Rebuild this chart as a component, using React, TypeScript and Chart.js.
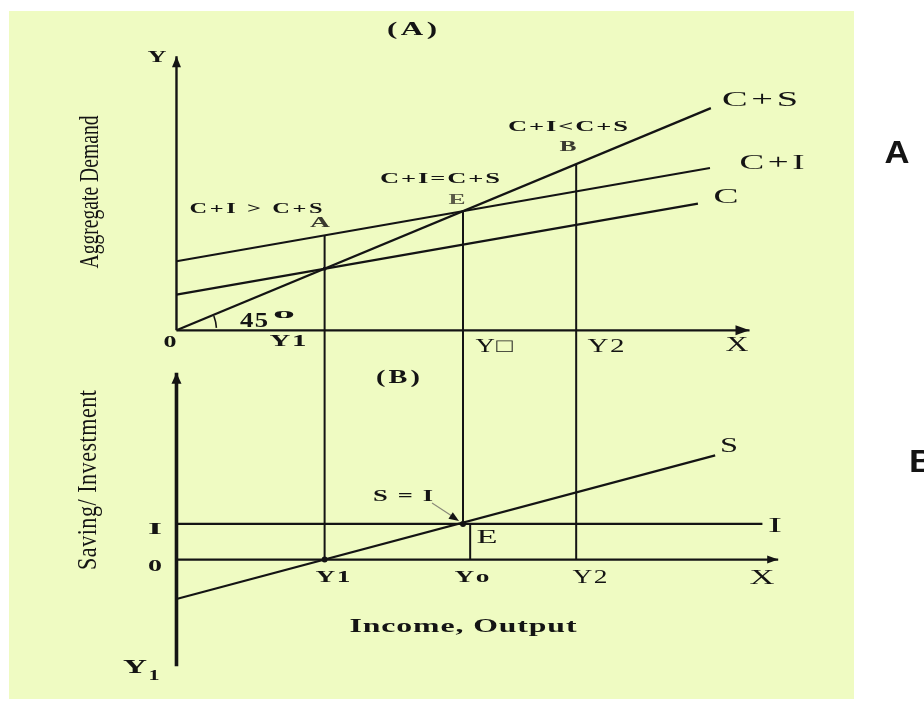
import { useEffect, useRef } from 'react';
import { Chart, registerables } from 'chart.js';

Chart.register(...registerables);

// ---- Panel A: aggregate demand (x = income, y = AD) ----
const csX = [0, 186.5];
const csY = [0, 186.5]; // C+S (45° line)
const ciX = [0, 186.2];
const ciY = [58, 136.2]; // C+I
const cX = [0, 182];
const cY = [30, 106.4]; // C
const axisAX = [0, 200];
const axisAY = [0, 230];

// ---- Panel B: saving / investment ----
const sX = [0, 188];
const sY = [-31, 82]; // S
const iX = [0, 204.5];
const iY = [28, 28]; // I
const axisBX = [0, 210];
const axisBY = [-84, 147];

// income levels Y1, Yo, Y2 and guide lines
const incomeLabels = ['Y1', 'Yo', 'Y2'];
const incomeLevels = [51.7, 100, 139.5];
const guideX = [51.7, 100, 139.5, 102.5];
const guideTop = [79.7, 100, 139.5, 28];
const guideTopAxis = ['yA', 'yA', 'yA', 'yB'];
const guideBottom = [0, 28, 0, 0];

// marked points
const dotAX = [51.7];
const dotAY = [51.7];
const dotBX = [100, 51.7];
const dotBY = [28, 0];

const INK = '#141414';
const BG = '#EFFBC2';

function seg(xs: number[], ys: number[], axis: string, width: number) {
  return {
    data: xs.map((x, i) => ({ x, y: ys[i] })),
    yAxisID: axis,
    showLine: true,
    borderColor: INK,
    backgroundColor: INK,
    borderWidth: width,
    pointRadius: 0,
    fill: false,
  };
}

function dots(xs: number[], ys: number[], axis: string, r: number) {
  return {
    data: xs.map((x, i) => ({ x, y: ys[i] })),
    yAxisID: axis,
    showLine: false,
    borderColor: INK,
    backgroundColor: INK,
    pointRadius: r,
    borderWidth: 0,
  };
}

function drawText(
  ctx: CanvasRenderingContext2D,
  text: string,
  cx: number,
  cy: number,
  font: string,
  w: number,
  opts: { ls?: number; sy?: number; rot?: number; color?: string } = {}
) {
  const { ls = 1, sy = 1, rot = 0, color = INK } = opts;
  ctx.save();
  ctx.font = font;
  ctx.fillStyle = color;
  ctx.textBaseline = 'middle';
  ctx.textAlign = 'left';
  const chars = Array.from(text);
  const widths = chars.map((c) => ctx.measureText(c).width);
  const nw = widths.reduce((a, b) => a + b, 0) + ls * (chars.length - 1);
  const sx = w / nw;
  ctx.translate(cx, cy);
  ctx.rotate(rot);
  ctx.scale(sx, sy);
  let x = -nw / 2;
  chars.forEach((c, i) => {
    ctx.fillText(c, x, 0);
    x += widths[i] + ls;
  });
  ctx.restore();
}

function arrowHead(ctx: CanvasRenderingContext2D, tx: number, ty: number, dx: number, dy: number, len = 11, half = 4.5) {
  const l = Math.hypot(dx, dy);
  const ux = dx / l;
  const uy = dy / l;
  const bx = tx - ux * len;
  const by = ty - uy * len;
  ctx.beginPath();
  ctx.moveTo(tx, ty);
  ctx.lineTo(bx - uy * half, by + ux * half);
  ctx.lineTo(bx + uy * half, by - ux * half);
  ctx.closePath();
  ctx.fill();
}

const SERIF = '"Liberation Serif", "Times New Roman", serif';

const diagramPlugin = {
  id: 'diagram',
  beforeDraw(chart: any) {
    const ctx = chart.ctx as CanvasRenderingContext2D;
    ctx.save();
    ctx.fillStyle = '#ffffff';
    ctx.fillRect(0, 0, chart.width, chart.height);
    ctx.fillStyle = BG;
    ctx.fillRect(9, 11, 845, 688);
    ctx.restore();
  },
  afterDatasetsDraw(chart: any) {
    const ctx = chart.ctx as CanvasRenderingContext2D;
    const xs = chart.scales.x;
    const yA = chart.scales.yA;
    const yB = chart.scales.yB;
    ctx.save();
    ctx.strokeStyle = INK;
    ctx.fillStyle = INK;

    // vertical guide lines across both panels
    ctx.lineWidth = 2;
    guideX.forEach((gx, i) => {
      const px = xs.getPixelForValue(gx);
      const topScale = guideTopAxis[i] === 'yA' ? yA : yB;
      ctx.beginPath();
      ctx.moveTo(px, topScale.getPixelForValue(guideTop[i]));
      ctx.lineTo(px, yB.getPixelForValue(guideBottom[i]));
      ctx.stroke();
    });

    // axis arrowheads
    arrowHead(ctx, xs.getPixelForValue(0), yA.getPixelForValue(axisAY[1]), 0, -1, 11, 4.5);
    arrowHead(ctx, xs.getPixelForValue(axisAX[1]), yA.getPixelForValue(0), 1, 0, 14, 5);
    arrowHead(ctx, xs.getPixelForValue(0), yB.getPixelForValue(axisBY[1]), 0, -1, 11, 5);
    arrowHead(ctx, xs.getPixelForValue(axisBX[1]), yB.getPixelForValue(0), 1, 0, 11, 4);

    // 45 degree angle mark
    const ox = xs.getPixelForValue(0);
    const oy = yA.getPixelForValue(0);
    const ang = Math.atan2(
      yA.getPixelForValue(csY[1]) - oy,
      xs.getPixelForValue(csX[1]) - ox
    );
    ctx.lineWidth = 1.6;
    ctx.beginPath();
    ctx.arc(ox, oy, 40, ang + 0.03, -0.06);
    ctx.stroke();

    // S = I pointer
    const ex = xs.getPixelForValue(incomeLevels[1]);
    const ey = yB.getPixelForValue(iY[0]);
    ctx.strokeStyle = '#8a8a7a';
    ctx.lineWidth = 1.2;
    ctx.beginPath();
    ctx.moveTo(ex - 31, ey - 21);
    ctx.lineTo(ex - 8, ey - 6);
    ctx.stroke();
    ctx.fillStyle = INK;
    arrowHead(ctx, ex - 4, ey - 3, 23, 15, 10, 4);
    ctx.restore();

    // ---- labels ----
    const B = (s: number) => `bold ${s}px ${SERIF}`;
    const R = (s: number) => `${s}px ${SERIF}`;
    drawText(ctx, '(A)', 412, 30, B(18), 50, { ls: 2 });
    drawText(ctx, 'Y', 157, 58, B(16), 19);
    drawText(ctx, 'Aggregate Demand', 91, 192, R(20), 153, { ls: 0, sy: 1.35, rot: -Math.PI / 2 });
    drawText(ctx, 'C+I > C+S', 256, 209, B(14), 133, { ls: 1.5 });
    drawText(ctx, 'A', 320, 223, B(15), 20, { color: '#3a3a30' });
    drawText(ctx, 'C+I=C+S', 440, 179, B(14), 120, { ls: 1 });
    drawText(ctx, 'E', 457, 200, B(15), 17, { color: '#5a5a48' });
    drawText(ctx, 'C+I<C+S', 568, 127, B(14), 120, { ls: 1 });
    drawText(ctx, 'B', 568, 147, B(15), 17, { color: '#3a3a30' });
    drawText(ctx, 'C+S', 760, 100, R(21), 76, { ls: 2 });
    drawText(ctx, 'C+I', 772, 163, R(21), 65, { ls: 2 });
    drawText(ctx, 'C', 726, 197, R(21), 25);
    drawText(ctx, 'X', 737, 345, R(21), 23);
    drawText(ctx, '0', 170, 343, B(17), 13);
    drawText(ctx, '45', 254, 322, B(20), 28);
    drawText(ctx, 'o', 284, 314, B(15), 22);
    const upperY = [342, 347, 347];
    const upperXc = [288, 494, 606];
    incomeLabels.forEach((t, i) => {
      drawText(ctx, t === 'Yo' ? 'Y\u25a1' : t, upperXc[i], upperY[i], i === 0 ? B(17) : R(19), 37, { ls: 1 });
    });

    drawText(ctx, '(B)', 398, 378, B(18), 44, { ls: 2 });
    drawText(ctx, 'Saving/ Investment', 89, 480, R(21), 180, { ls: 0.5, sy: 1.35, rot: -Math.PI / 2 });
    drawText(ctx, 'I', 155, 530, B(17), 14);
    drawText(ctx, '0', 155, 567, B(17), 14);
    drawText(ctx, 'Y', 135, 668, B(19), 24);
    drawText(ctx, '1', 154, 676, B(14), 11);
    const lowerXc = [333, 472, 590];
    incomeLabels.forEach((t, i) => {
      drawText(ctx, t, lowerXc[i], 578, i === 2 ? R(18) : B(17), 35, { ls: 1 });
    });
    drawText(ctx, 'X', 762, 578, R(21), 25);
    drawText(ctx, 'E', 487, 538, R(19), 21);
    drawText(ctx, 'S', 729, 447, R(20), 18);
    drawText(ctx, 'I', 775, 527, R(20), 14);
    drawText(ctx, 'S = I', 403, 497, B(16), 60, { ls: 1 });
    drawText(ctx, 'Income, Output', 463, 627, B(18), 227, { ls: 0.5 });

    const SANS = '"Liberation Sans", Arial, sans-serif';
    drawText(ctx, 'A', 897, 154, `bold 32px ${SANS}`, 25);
    drawText(ctx, 'B', 922, 463, `bold 32px ${SANS}`, 26);
  },
};

export default function App() {
  const ref = useRef<HTMLCanvasElement | null>(null);
  useEffect(() => {
    if (!ref.current) return;
    const chart = new Chart(ref.current, {
      type: 'scatter',
      data: {
        datasets: [
          seg(axisAX, [0, 0], 'yA', 2.2),
          seg([0, 0], axisAY, 'yA', 2.4),
          seg(csX, csY, 'yA', 2.2),
          seg(ciX, ciY, 'yA', 2),
          seg(cX, cY, 'yA', 2.2),
          seg(axisBX, [0, 0], 'yB', 2.2),
          seg([0, 0], axisBY, 'yB', 3.6),
          seg(iX, iY, 'yB', 2.2),
          seg(sX, sY, 'yB', 2.2),
          dots(dotAX, dotAY, 'yA', 2),
          dots(dotBX, dotBY, 'yB', 3),
        ] as any,
      },
      options: {
        animation: false,
        responsive: false,
        maintainAspectRatio: false,
        devicePixelRatio: 1,
        layout: { padding: 0 },
        events: [],
        plugins: { legend: { display: false }, tooltip: { enabled: false } },
        scales: {
          x: { type: 'linear', display: false, min: -60.2, max: 259.5 },
          yA: { type: 'linear', display: false, min: -307.8, max: 273.9 },
          yB: { type: 'linear', display: false, min: -108.1, max: 437.0 },
        },
      } as any,
      plugins: [diagramPlugin],
    });
    return () => chart.destroy();
  }, []);
  return (
    <div style={{ position: 'absolute', left: 0, top: 0, width: 924, height: 701 }}>
      <canvas ref={ref} width={924} height={701} style={{ display: 'block', width: 924, height: 701 }} />
    </div>
  );
}
